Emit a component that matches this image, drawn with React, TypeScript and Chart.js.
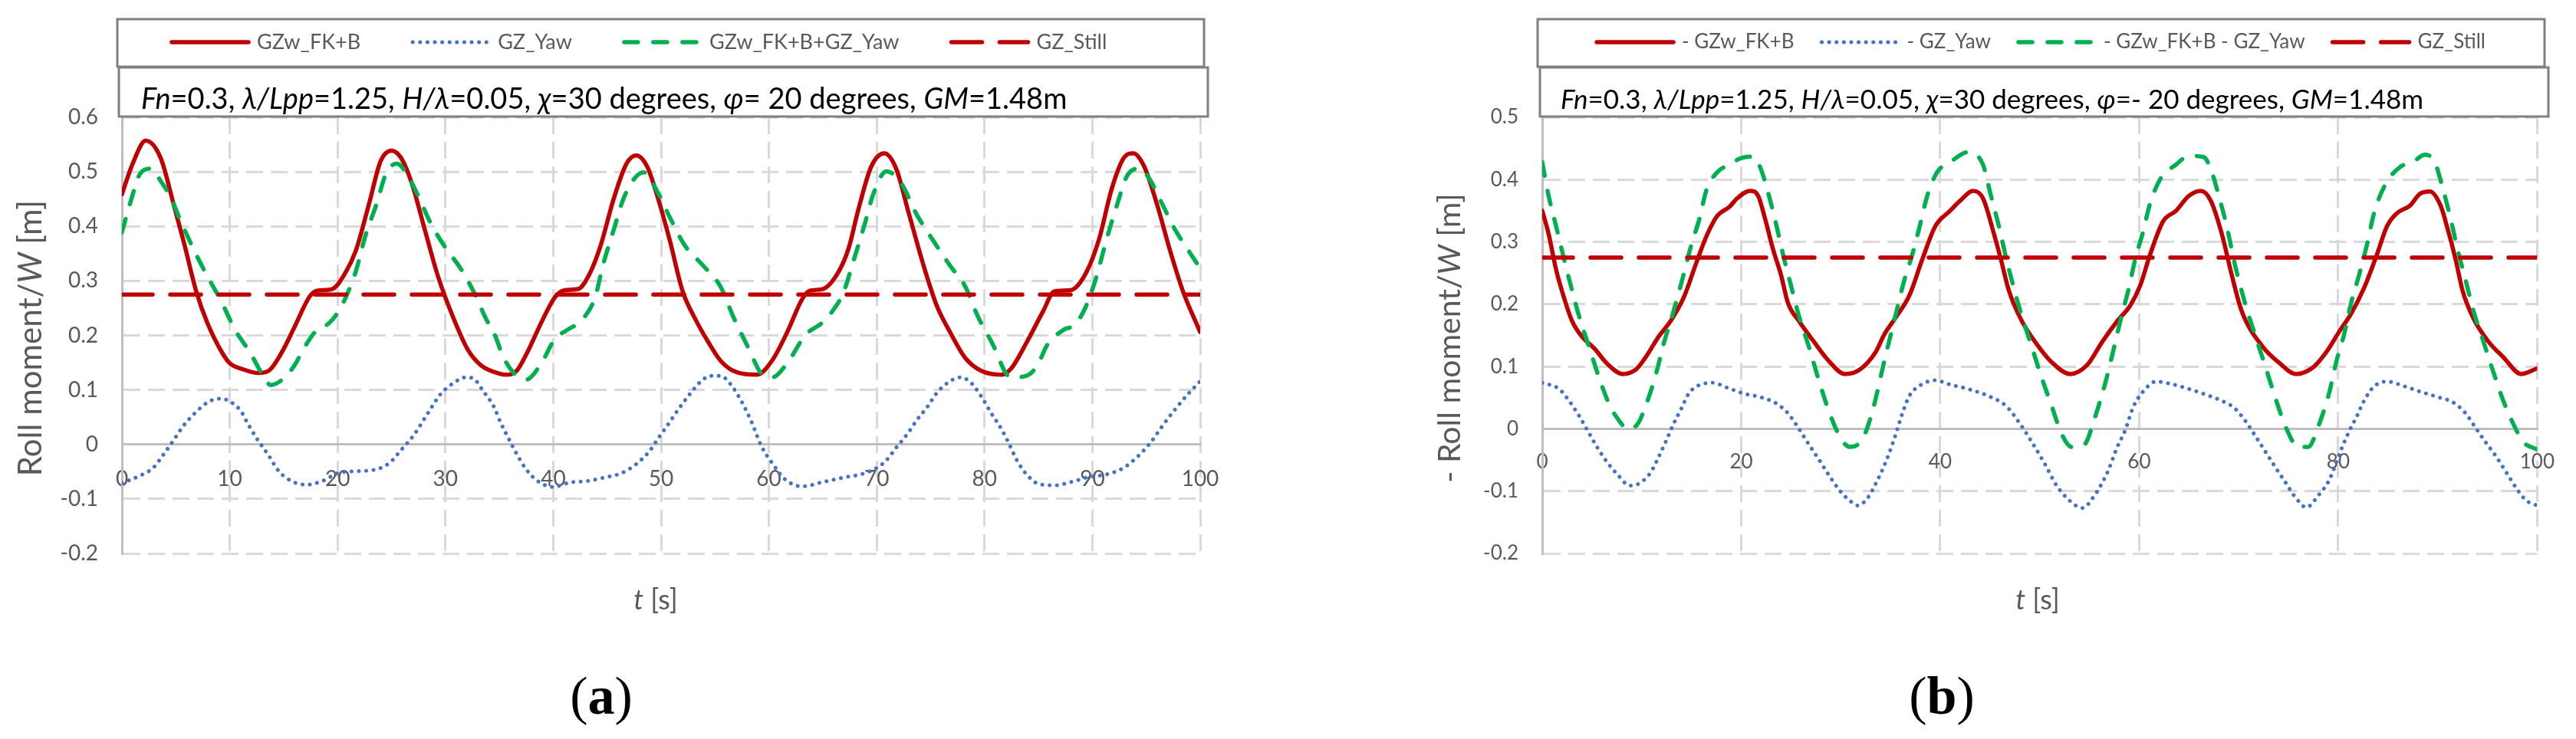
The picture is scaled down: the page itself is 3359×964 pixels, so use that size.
import React, { useEffect, useRef } from "react";
import { Chart, registerables } from "chart.js";

Chart.register(...registerables);

// ---- colours / fonts (Excel look) ----
const RED = "#C00000";
const BLUE = "#4472C4";
const GREEN = "#00B050";
const GRID = "#D9D9D9";
const AXIS = "#BFBFBF";
const TEXT = "#595959";
const BOX = "#7F7F7F";
const FONT = "Lato, 'Liberation Sans', sans-serif";
const SERIF = "'Liberation Serif', 'DejaVu Serif', serif";

// ---- axes ----
const xTicksA = [0, 10, 20, 30, 40, 50, 60, 70, 80, 90, 100];
const xLabelsA = ["0", "10", "20", "30", "40", "50", "60", "70", "80", "90", "100"];
const yTicksA = [-0.2, -0.1, 0, 0.1, 0.2, 0.3, 0.4, 0.5, 0.6];
const yLabelsA = ["-0.2", "-0.1", "0", "0.1", "0.2", "0.3", "0.4", "0.5", "0.6"];
const xTicksB = [0, 20, 40, 60, 80, 100];
const xLabelsB = ["0", "20", "40", "60", "80", "100"];
const yTicksB = [-0.2, -0.1, 0, 0.1, 0.2, 0.3, 0.4, 0.5];
const yLabelsB = ["-0.2", "-0.1", "0", "0.1", "0.2", "0.3", "0.4", "0.5"];

const namesA = ["GZw_FK+B", "GZ_Yaw", "GZw_FK+B+GZ_Yaw", "GZ_Still"];
const namesB = ["- GZw_FK+B", "- GZ_Yaw", "- GZw_FK+B - GZ_Yaw", "GZ_Still"];

// ---- panel (a) series, t [s] / value [m] ----
const tRedA = [0, 1.0, 2.2, 3.6, 4.8, 5.75, 6.9, 7.9, 9.3, 10.0, 11.2, 12.6, 13.6, 14.8, 16.0, 17.4, 18.1, 19.5, 20.7, 21.7, 22.9, 24.0, 25.0, 25.9, 26.9, 28.1, 29.3, 30.7, 32.1, 33.3, 35.0, 35.6, 36.6, 37.7, 38.9, 40.2, 41.1, 42.3, 43.4, 44.4, 45.6, 46.8, 47.7, 48.7, 49.6, 50.8, 52.0, 53.2, 54.4, 55.5, 56.7, 58.9, 60.3, 61.7, 63.1, 63.8, 65.0, 66.5, 67.4, 68.3, 69.5, 70.7, 71.8, 73.0, 74.5, 75.6, 76.8, 78.2, 79.7, 81.6, 82.5, 83.9, 85.4, 86.5, 88.0, 89.4, 90.6, 91.8, 92.9, 93.8, 94.8, 96.0, 97.2, 98.4, 100];
const redA = [0.459, 0.515, 0.557, 0.525, 0.44, 0.37, 0.28, 0.224, 0.168, 0.149, 0.138, 0.131, 0.135, 0.168, 0.215, 0.271, 0.282, 0.285, 0.314, 0.356, 0.44, 0.52, 0.539, 0.525, 0.478, 0.393, 0.309, 0.234, 0.173, 0.145, 0.13, 0.128, 0.135, 0.173, 0.224, 0.271, 0.283, 0.285, 0.314, 0.365, 0.45, 0.515, 0.53, 0.51, 0.459, 0.375, 0.281, 0.229, 0.187, 0.154, 0.135, 0.128, 0.154, 0.206, 0.267, 0.282, 0.285, 0.318, 0.36, 0.431, 0.51, 0.534, 0.506, 0.422, 0.318, 0.253, 0.206, 0.159, 0.135, 0.128, 0.14, 0.187, 0.243, 0.281, 0.283, 0.314, 0.375, 0.469, 0.525, 0.534, 0.51, 0.44, 0.356, 0.281, 0.206];

const tYawA = [0, 1.7, 2.9, 3.8, 4.8, 5.7, 6.9, 8.1, 9.1, 9.8, 11.0, 11.7, 12.6, 13.6, 14.5, 15.7, 17.1, 18.6, 20.0, 21.7, 23.3, 24.8, 25.9, 27.1, 28.3, 29.5, 30.7, 31.9, 32.6, 33.5, 34.5, 35.1, 35.8, 36.6, 37.5, 38.7, 40.0, 41.5, 43.2, 44.9, 46.3, 47.7, 48.9, 49.8, 50.8, 51.7, 52.7, 53.6, 54.6, 55.5, 56.5, 57.4, 58.4, 59.3, 60.3, 61.5, 63.1, 65.0, 67.1, 68.5, 70.0, 70.9, 71.8, 72.8, 73.7, 74.7, 75.6, 76.8, 77.8, 78.7, 79.7, 80.6, 81.6, 82.3, 83.0, 83.9, 85.1, 86.5, 88.2, 89.6, 91.3, 92.9, 94.1, 95.3, 96.5, 97.7, 98.9, 100];
const yawA = [-0.071, -0.057, -0.043, -0.02, 0.008, 0.034, 0.06, 0.079, 0.084, 0.081, 0.062, 0.037, 0.008, -0.02, -0.048, -0.067, -0.074, -0.067, -0.053, -0.049, -0.047, -0.034, -0.01, 0.018, 0.055, 0.091, 0.112, 0.123, 0.121, 0.098, 0.069, 0.041, 0.013, -0.017, -0.046, -0.069, -0.078, -0.07, -0.067, -0.06, -0.053, -0.036, -0.013, 0.013, 0.041, 0.067, 0.093, 0.114, 0.126, 0.126, 0.109, 0.081, 0.041, -0.003, -0.034, -0.064, -0.077, -0.069, -0.06, -0.055, -0.043, -0.029, -0.006, 0.018, 0.044, 0.069, 0.095, 0.116, 0.123, 0.114, 0.088, 0.058, 0.027, 0.0, -0.029, -0.055, -0.073, -0.075, -0.068, -0.06, -0.055, -0.043, -0.024, 0.001, 0.034, 0.065, 0.093, 0.116];

const tSumA = [0, 0.8, 1.7, 2.7, 3.6, 4.6, 5.5, 6.7, 7.9, 9.1, 10.5, 11.9, 13.1, 13.8, 15.0, 16.0, 16.9, 17.9, 19.3, 20.2, 20.9, 21.7, 22.6, 23.6, 24.5, 25.5, 26.4, 27.4, 28.6, 30.0, 31.4, 32.6, 33.8, 34.5, 35.4, 36.6, 37.5, 38.9, 40.1, 41.3, 42.7, 43.9, 44.6, 45.6, 46.5, 47.5, 48.4, 49.4, 50.8, 52.2, 53.9, 55.5, 56.7, 58.1, 59.3, 60.3, 61.7, 63.4, 65.0, 66.2, 66.9, 67.9, 68.9, 69.7, 70.9, 72.3, 73.7, 75.2, 76.8, 78.2, 79.4, 80.8, 82.0, 82.5, 83.9, 84.9, 85.8, 87.3, 88.4, 89.4, 90.4, 91.3, 92.3, 93.2, 94.4, 95.3, 96.5, 97.7, 98.9, 100];
const sumA = [0.389, 0.445, 0.497, 0.506, 0.483, 0.45, 0.407, 0.356, 0.309, 0.267, 0.21, 0.168, 0.126, 0.109, 0.121, 0.145, 0.177, 0.206, 0.224, 0.248, 0.276, 0.318, 0.384, 0.44, 0.497, 0.515, 0.497, 0.459, 0.407, 0.361, 0.323, 0.281, 0.229, 0.205, 0.159, 0.126, 0.119, 0.149, 0.192, 0.21, 0.229, 0.271, 0.328, 0.393, 0.45, 0.487, 0.499, 0.473, 0.417, 0.365, 0.328, 0.29, 0.234, 0.177, 0.13, 0.123, 0.149, 0.201, 0.224, 0.253, 0.278, 0.34, 0.405, 0.46, 0.501, 0.478, 0.422, 0.375, 0.328, 0.29, 0.234, 0.182, 0.13, 0.123, 0.126, 0.145, 0.182, 0.21, 0.22, 0.253, 0.309, 0.375, 0.44, 0.492, 0.506, 0.487, 0.44, 0.393, 0.356, 0.323];

const stillA = 0.275;

// ---- panel (b) series ----
const tRedB = [0, 0.64, 1.4, 2.2, 3.0, 4.0, 5.3, 6.5, 8.1, 9.4, 10.4, 11.7, 12.9, 14.2, 15.5, 16.5, 17.6, 18.8, 19.6, 20.9, 21.7, 22.4, 23.2, 24.0, 24.7, 25.8, 27.3, 28.8, 30.4, 31.9, 33.5, 34.4, 35.5, 36.9, 38.2, 39.5, 41.0, 42.0, 43.3, 44.3, 45.4, 46.1, 46.9, 48.2, 49.7, 51.2, 53.1, 54.8, 56.3, 57.8, 59.1, 60.1, 61.1, 62.4, 63.7, 65.0, 66.2, 67.2, 68.3, 69.3, 70.3, 72.4, 74.0, 75.75, 77.5, 78.8, 80.1, 81.3, 82.6, 83.9, 84.9, 85.9, 87.2, 88.2, 89.2, 90.3, 91.0, 91.8, 92.5, 93.6, 95.1, 96.6, 98.4, 100];
const redB = [0.35, 0.313, 0.255, 0.21, 0.173, 0.148, 0.128, 0.105, 0.088, 0.095, 0.115, 0.148, 0.173, 0.21, 0.267, 0.309, 0.342, 0.356, 0.37, 0.382, 0.374, 0.337, 0.288, 0.247, 0.202, 0.173, 0.14, 0.109, 0.088, 0.095, 0.123, 0.152, 0.178, 0.214, 0.272, 0.325, 0.35, 0.366, 0.382, 0.37, 0.313, 0.272, 0.222, 0.173, 0.136, 0.107, 0.088, 0.103, 0.14, 0.173, 0.198, 0.23, 0.28, 0.333, 0.35, 0.374, 0.382, 0.366, 0.313, 0.247, 0.189, 0.132, 0.107, 0.088, 0.099, 0.123, 0.156, 0.185, 0.226, 0.28, 0.325, 0.346, 0.358, 0.377, 0.381, 0.358, 0.321, 0.272, 0.222, 0.177, 0.14, 0.115, 0.088, 0.097];

const tYawB = [0, 1.7, 2.7, 3.7, 4.6, 5.5, 6.5, 7.6, 8.8, 9.7, 10.9, 11.7, 12.4, 13.2, 14.0, 14.7, 15.5, 17.1, 18.6, 20.4, 21.9, 23.5, 24.7, 25.8, 26.8, 27.8, 28.8, 29.9, 30.9, 31.7, 32.7, 33.7, 34.4, 35.3, 36.2, 36.9, 38.0, 39.5, 41.0, 42.8, 45.1, 46.6, 48.2, 49.2, 50.4, 51.7, 53.0, 54.3, 55.5, 56.8, 57.8, 58.6, 59.4, 60.4, 61.7, 63.2, 65.0, 66.5, 68.0, 69.6, 70.7, 71.7, 72.7, 73.7, 74.7, 75.75, 76.8, 78.0, 79.1, 80.3, 81.1, 81.9, 82.6, 83.6, 84.9, 86.7, 88.2, 90.0, 91.5, 92.8, 93.8, 94.8, 95.9, 96.9, 97.9, 98.9, 100];
const yawB = [0.074, 0.064, 0.045, 0.021, -0.004, -0.029, -0.053, -0.074, -0.091, -0.088, -0.07, -0.045, -0.021, 0.008, 0.033, 0.056, 0.068, 0.074, 0.066, 0.056, 0.051, 0.041, 0.025, 0.0, -0.025, -0.049, -0.074, -0.099, -0.115, -0.123, -0.111, -0.082, -0.058, -0.02, 0.025, 0.053, 0.07, 0.078, 0.071, 0.064, 0.051, 0.037, 0.004, -0.021, -0.053, -0.091, -0.115, -0.127, -0.107, -0.07, -0.029, -0.002, 0.035, 0.06, 0.076, 0.072, 0.064, 0.056, 0.047, 0.033, 0.012, -0.012, -0.037, -0.062, -0.086, -0.111, -0.126, -0.107, -0.082, -0.033, -0.004, 0.021, 0.045, 0.068, 0.076, 0.068, 0.06, 0.051, 0.043, 0.025, 0.002, -0.021, -0.045, -0.07, -0.095, -0.115, -0.123];

const tSumB = [0, 0.64, 1.4, 2.2, 3.0, 3.7, 4.7, 5.8, 6.8, 7.6, 8.6, 9.6, 10.4, 11.4, 12.2, 13.2, 14.2, 15.0, 15.8, 16.5, 17.6, 18.8, 19.9, 21.2, 21.9, 22.7, 23.5, 24.2, 25.0, 25.8, 26.8, 27.8, 28.8, 29.9, 30.9, 32.2, 33.2, 34.4, 35.4, 36.4, 37.2, 38.0, 38.7, 39.7, 41.0, 42.8, 44.3, 45.1, 45.9, 46.6, 47.4, 48.2, 49.2, 50.2, 51.2, 52.2, 53.2, 54.5, 55.5, 56.6, 57.3, 58.1, 58.9, 59.6, 60.4, 61.1, 62.2, 63.7, 65.0, 66.5, 67.3, 68.0, 68.8, 69.6, 70.7, 71.7, 72.7, 73.7, 74.7, 76.0, 77.0, 78.0, 79.1, 79.8, 80.6, 81.3, 82.1, 82.9, 83.6, 84.7, 86.2, 87.5, 88.7, 89.7, 90.5, 91.3, 92.0, 92.8, 93.6, 94.6, 95.6, 96.6, 97.6, 98.6, 100];
const sumB = [0.428, 0.374, 0.325, 0.272, 0.222, 0.181, 0.132, 0.078, 0.037, 0.016, 0.0, 0.008, 0.037, 0.086, 0.136, 0.189, 0.247, 0.296, 0.337, 0.383, 0.412, 0.424, 0.434, 0.437, 0.42, 0.379, 0.329, 0.28, 0.23, 0.181, 0.132, 0.078, 0.029, -0.012, -0.029, -0.016, 0.029, 0.11, 0.175, 0.239, 0.28, 0.329, 0.374, 0.412, 0.428, 0.444, 0.424, 0.374, 0.325, 0.276, 0.226, 0.181, 0.132, 0.082, 0.037, -0.008, -0.029, -0.025, 0.016, 0.074, 0.119, 0.173, 0.222, 0.272, 0.317, 0.362, 0.403, 0.424, 0.438, 0.436, 0.412, 0.374, 0.325, 0.265, 0.198, 0.148, 0.099, 0.049, 0.004, -0.029, -0.029, 0.004, 0.058, 0.107, 0.152, 0.202, 0.247, 0.296, 0.346, 0.391, 0.42, 0.428, 0.44, 0.428, 0.387, 0.337, 0.288, 0.239, 0.189, 0.14, 0.091, 0.045, 0.008, -0.021, -0.033];

const stillB = 0.275;

// ---- texts ----
type Run = [string, string];
const subtitleA: Run[] = [["italic", "Fn"], ["", "=0.3, "], ["italic", "λ/Lpp"], ["", "=1.25, "], ["italic", "H/λ"], ["", "=0.05, "], ["italic", "χ"], ["", "=30 degrees, "], ["italic", "φ"], ["", "= 20 degrees, "], ["italic", "GM"], ["", "=1.48m"]];
const subtitleB: Run[] = [["italic", "Fn"], ["", "=0.3, "], ["italic", "λ/Lpp"], ["", "=1.25, "], ["italic", "H/λ"], ["", "=0.05, "], ["italic", "χ"], ["", "=30 degrees, "], ["italic", "φ"], ["", "=- 20 degrees, "], ["italic", "GM"], ["", "=1.48m"]];
const yTitleA: Run[] = [["", "Roll moment/"], ["italic", "W"], ["", " [m]"]];
const yTitleB: Run[] = [["", "- Roll moment/"], ["italic", "W"], ["", " [m]"]];
const xTitle: Run[] = [["italic", "t"], ["", " [s]"]];
const captionA: Run[] = [["", "("], ["bold", "a"], ["", ")"]];
const captionB: Run[] = [["", "("], ["bold", "b"], ["", ")"]];

type Style = { color: string; width: number; dash: number[]; cap: CanvasLineCap };
const styles: Style[] = [
  { color: RED, width: 5.5, dash: [], cap: "round" },
  { color: BLUE, width: 5, dash: [0.1, 9.5], cap: "round" },
  { color: GREEN, width: 5.5, dash: [18, 20], cap: "round" },
  { color: RED, width: 5.5, dash: [40, 23], cap: "round" },
];

type Panel = {
  x: number; w: number;
  pad: { left: number; right: number; top: number; bottom: number };
  yMin: number; yMax: number;
  xTicks: number[]; xLabels: string[]; yTicks: number[]; yLabels: string[];
  tickSize: number;
  names: string[]; series: { t: number[]; v: number[] }[];
  legendBox: [number, number]; legendStart: number | null; legendGap: number; legendSize: number;
  subBox: [number, number]; subStart: number; subtitle: Run[]; subSize: number;
  yTitle: Run[]; yTitleX: number; yTitleSize: number; xTitleX: number;
  caption: Run[]; captionX: number;
};

const panelA: Panel = {
  x: 0, w: 1660,
  pad: { left: 0, right: 95, top: 153, bottom: 242 },
  yMin: -0.2, yMax: 0.6,
  xTicks: xTicksA, xLabels: xLabelsA, yTicks: yTicksA, yLabels: yLabelsA,
  tickSize: 28,
  names: namesA,
  series: [
    { t: tRedA, v: redA },
    { t: tYawA, v: yawA },
    { t: tSumA, v: sumA },
    { t: [0, 100], v: [stillA, stillA] },
  ],
  legendBox: [153, 1570], legendStart: 224, legendGap: 68, legendSize: 27,
  subBox: [155, 1575], subStart: 184, subtitle: subtitleA, subSize: 38,
  yTitle: yTitleA, yTitleX: 40, yTitleSize: 42, xTitleX: 855,
  caption: captionA, captionX: 784,
};

const panelB: Panel = {
  x: 1660, w: 1699,
  pad: { left: 192, right: 42, top: 153, bottom: 242 },
  yMin: -0.2, yMax: 0.5,
  xTicks: xTicksB, xLabels: xLabelsB, yTicks: yTicksB, yLabels: yLabelsB,
  tickSize: 26,
  names: namesB,
  series: [
    { t: tRedB, v: redB },
    { t: tYawB, v: yawB },
    { t: tSumB, v: sumB },
    { t: [0, 100], v: [stillB, stillB] },
  ],
  legendBox: [2005, 3318], legendStart: null, legendGap: 36, legendSize: 26,
  subBox: [2008, 3323], subStart: 2035, subtitle: subtitleB, subSize: 35,
  yTitle: yTitleB, yTitleX: 1891, yTitleSize: 41, xTitleX: 2657,
  caption: captionB, captionX: 2532,
};

function runsWidth(ctx: CanvasRenderingContext2D, runs: Run[], size: number, family: string) {
  let w = 0;
  for (const [st, s] of runs) {
    ctx.font = `${st} ${size}px ${family}`;
    w += ctx.measureText(s).width;
  }
  return w;
}

function drawRuns(ctx: CanvasRenderingContext2D, runs: Run[], x: number, y: number, size: number, family: string) {
  for (const [st, s] of runs) {
    ctx.font = `${st} ${size}px ${family}`;
    ctx.fillText(s, x, y);
    x += ctx.measureText(s).width;
  }
}

const LINE = 100;
const LINE_GAP = 11;

function makeDecor(p: Panel) {
  return {
    id: "decor",
    afterDraw(chart: any) {
      const ctx: CanvasRenderingContext2D = chart.ctx;
      const ox = p.x;
      ctx.save();
      ctx.textAlign = "left";

      // legend box
      ctx.fillStyle = "#fff";
      ctx.strokeStyle = BOX;
      ctx.lineWidth = 3;
      ctx.fillRect(p.legendBox[0] - ox, 25, p.legendBox[1] - p.legendBox[0], 62);
      ctx.strokeRect(p.legendBox[0] - ox, 25, p.legendBox[1] - p.legendBox[0], 62);

      ctx.font = `${p.legendSize}px ${FONT}`;
      const widths = p.names.map((n) => ctx.measureText(n).width);
      const total = widths.reduce((a, w) => a + w + LINE + LINE_GAP, 0) + p.legendGap * (p.names.length - 1);
      let x = p.legendStart !== null
        ? p.legendStart - ox
        : (p.legendBox[0] + p.legendBox[1]) / 2 - ox - total / 2;
      const ly = 55;
      ctx.textBaseline = "middle";
      p.names.forEach((name, i) => {
        const s = styles[i];
        ctx.save();
        ctx.strokeStyle = s.color;
        ctx.lineWidth = s.width;
        ctx.lineCap = s.cap;
        ctx.setLineDash(s.dash);
        ctx.beginPath();
        ctx.moveTo(x, ly);
        ctx.lineTo(x + LINE, ly);
        ctx.stroke();
        ctx.restore();
        x += LINE + LINE_GAP;
        ctx.font = `${p.legendSize}px ${FONT}`;
        ctx.fillStyle = TEXT;
        ctx.fillText(name, x, ly);
        x += widths[i] + p.legendGap;
      });

      // subtitle box
      ctx.fillStyle = "#fff";
      ctx.strokeStyle = BOX;
      ctx.lineWidth = 3;
      ctx.fillRect(p.subBox[0] - ox, 88, p.subBox[1] - p.subBox[0], 64);
      ctx.strokeRect(p.subBox[0] - ox, 88, p.subBox[1] - p.subBox[0], 64);
      ctx.fillStyle = "#000";
      ctx.textBaseline = "alphabetic";
      drawRuns(ctx, p.subtitle, p.subStart - ox, 142, p.subSize, FONT);

      // y title (rotated)
      ctx.fillStyle = TEXT;
      ctx.textBaseline = "middle";
      const yw = runsWidth(ctx, p.yTitle, p.yTitleSize, FONT);
      ctx.save();
      ctx.translate(p.yTitleX - ox, 441);
      ctx.rotate(-Math.PI / 2);
      drawRuns(ctx, p.yTitle, -yw / 2, 0, p.yTitleSize, FONT);
      ctx.restore();

      // x title
      const xw = runsWidth(ctx, xTitle, 36, FONT);
      drawRuns(ctx, xTitle, p.xTitleX - ox - xw / 2, 783, 36, FONT);

      // caption
      ctx.fillStyle = "#000";
      const cw = runsWidth(ctx, p.caption, 70, SERIF);
      drawRuns(ctx, p.caption, p.captionX - ox - cw / 2, 913, 70, SERIF);
      ctx.restore();
    },
  };
}

function buildConfig(p: Panel): any {
  const datasets = p.series.map((s, i) => ({
    label: p.names[i],
    data: s.t.map((t, k) => ({ x: t, y: s.v[k] })),
    borderColor: styles[i].color,
    borderWidth: styles[i].width,
    borderDash: styles[i].dash,
    borderCapStyle: styles[i].cap,
    borderJoinStyle: "round",
    pointRadius: 0,
    fill: false,
    cubicInterpolationMode: "monotone",
    order: 3 - i,
  }));
  return {
    type: "line",
    data: { datasets },
    plugins: [makeDecor(p)],
    options: {
      responsive: false,
      animation: false,
      devicePixelRatio: 1,
      layout: { padding: p.pad },
      plugins: { legend: { display: false }, tooltip: { enabled: false } },
      scales: {
        x: {
          type: "linear",
          min: 0,
          max: 100,
          position: { y: 0 },
          afterBuildTicks: (s: any) => {
            s.ticks = p.xTicks.map((v) => ({ value: v }));
          },
          grid: { color: GRID, lineWidth: 3, drawTicks: false },
          border: { color: AXIS, width: 3, dash: [22, 10] },
          ticks: {
            color: TEXT,
            font: { family: FONT, size: p.tickSize },
            padding: 28,
            maxRotation: 0,
            autoSkip: false,
            callback: (v: number) => p.xLabels[p.xTicks.indexOf(v)],
          },
        },
        y: {
          type: "linear",
          min: p.yMin,
          max: p.yMax,
          afterBuildTicks: (s: any) => {
            s.ticks = p.yTicks.map((v) => ({ value: v }));
          },
          afterFit: (s: any) => {
            s.width = 159;
          },
          grid: { color: GRID, lineWidth: 3, drawTicks: false },
          border: { color: AXIS, width: 3, dash: [22, 10] },
          ticks: {
            color: TEXT,
            font: { family: FONT, size: p.tickSize },
            padding: 31,
            callback: (v: number) => {
              const k = p.yTicks.findIndex((t) => Math.abs(t - v) < 1e-9);
              return k >= 0 ? p.yLabels[k] : "";
            },
          },
        },
      },
    },
  };
}

function PanelChart({ p }: { p: Panel }) {
  const ref = useRef<HTMLCanvasElement>(null);
  useEffect(() => {
    if (!ref.current) return;
    const chart = new Chart(ref.current, buildConfig(p));
    return () => chart.destroy();
  }, [p]);
  return (
    <canvas
      ref={ref}
      width={p.w}
      height={964}
      style={{ position: "absolute", left: p.x, top: 0, width: p.w, height: 964 }}
    />
  );
}

export default function App() {
  return (
    <div
      style={{
        position: "absolute",
        left: 0,
        top: 0,
        width: 3359,
        height: 964,
        background: "#fff",
        overflow: "hidden",
      }}
    >
      <PanelChart p={panelA} />
      <PanelChart p={panelB} />
    </div>
  );
}
